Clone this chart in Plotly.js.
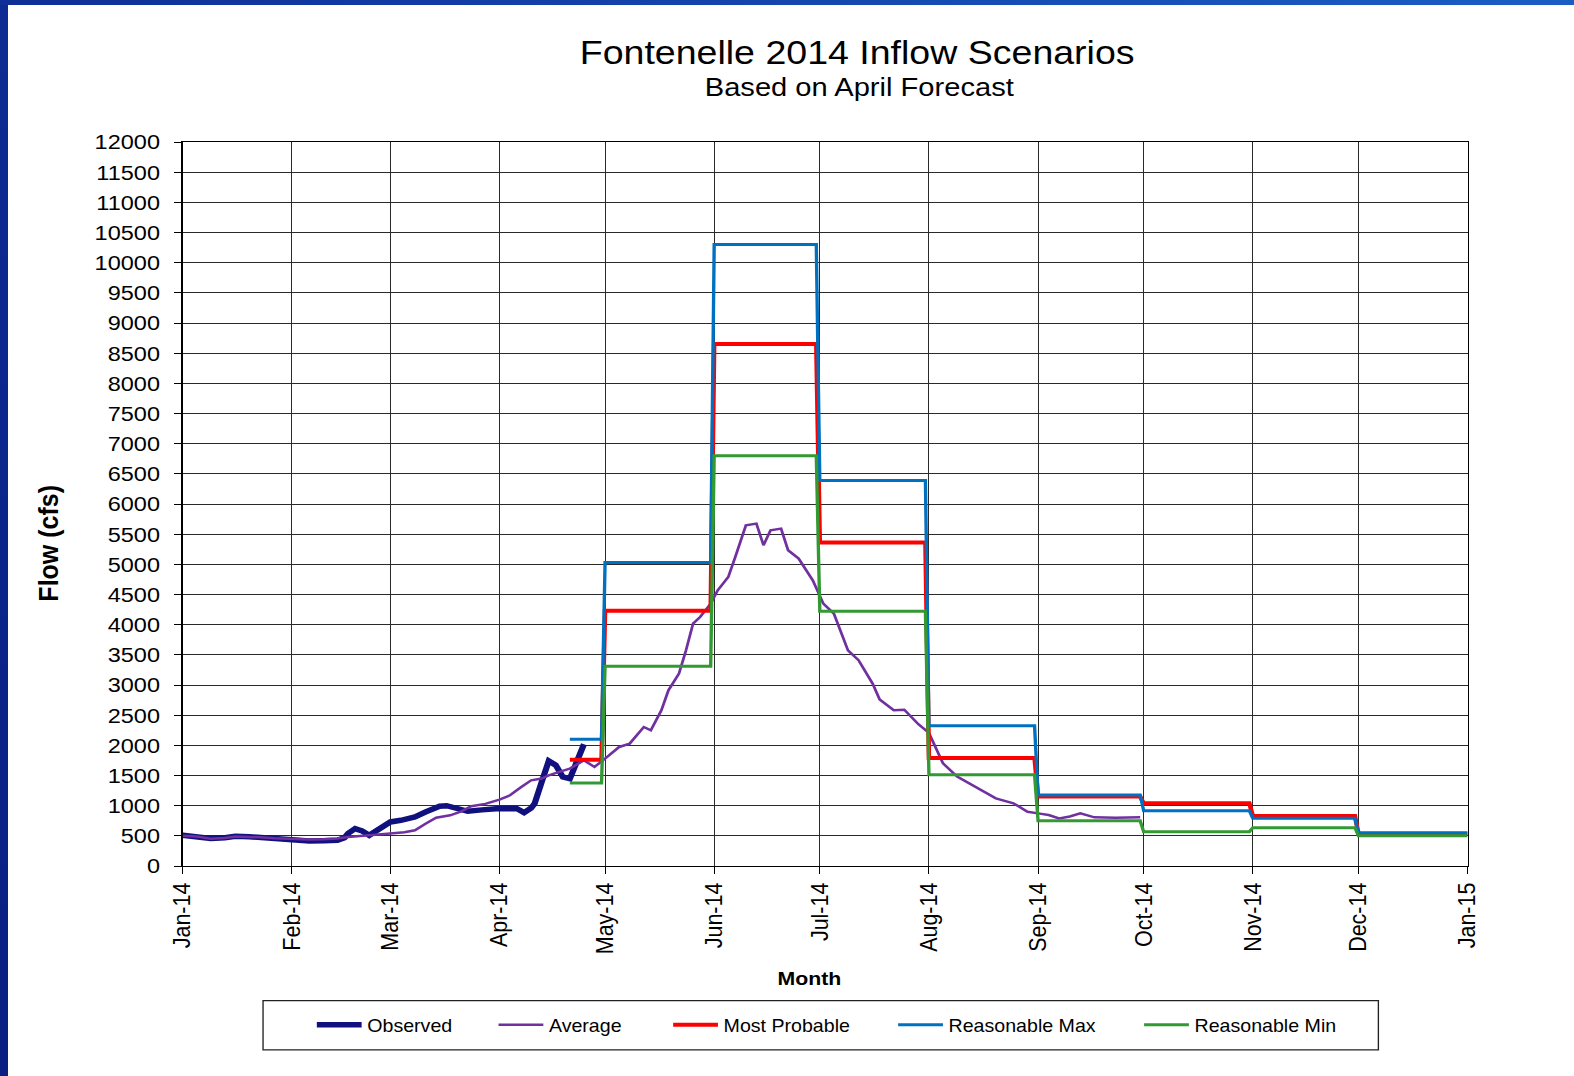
<!DOCTYPE html>
<html>
<head>
<meta charset="utf-8">
<script src="https://cdn.plot.ly/plotly-3.0.1.min.js"></script>
<style>
  html, body { margin: 0; padding: 0; background: #ffffff; overflow: hidden; }
  #wrap { position: absolute; left: 0; top: 0; width: 1574px; height: 1076px; background: #ffffff; }
  #chart { position: absolute; left: 0; top: 0; width: 1405px; height: 1076px; transform: scaleX(1.12028); transform-origin: 0 0; }
  #barLeft { position: absolute; left: 0; top: 0; width: 8px; height: 1076px; background: linear-gradient(#0d2b93, #0a1f82); }
  #barTop { position: absolute; left: 0; top: 0; width: 1574px; height: 5px; background: linear-gradient(90deg, #0f2f97, #1a5ec4); }
</style>
</head>
<body>
<div id="wrap">
  <div id="chart"></div>
  <div id="barLeft"></div>
  <div id="barTop"></div>
</div>
<script>
// ---------- DATA ----------
const observedDates = ["2014-01-01","2014-01-05","2014-01-09","2014-01-13","2014-01-16","2014-01-20","2014-01-23","2014-01-27",
  "2014-02-01","2014-02-06","2014-02-10","2014-02-14","2014-02-16","2014-02-17","2014-02-19","2014-02-21","2014-02-23","2014-02-26","2014-02-28",
  "2014-03-01","2014-03-04","2014-03-08","2014-03-11","2014-03-15","2014-03-17","2014-03-20","2014-03-23","2014-03-27","2014-03-31",
  "2014-04-06","2014-04-08","2014-04-10","2014-04-11","2014-04-13","2014-04-15","2014-04-17","2014-04-19","2014-04-21","2014-04-23","2014-04-25"];
const observedValues = [510,490,455,470,492,485,470,455,
  437,415,420,426,470,540,620,580,509,620,703,
  730,757,812,895,990,1000,950,907,930,950,
  950,885,960,1034,1393,1741,1670,1475,1447,1724,2017];

const averageDates = ["2014-01-01","2014-01-05","2014-01-09","2014-01-13","2014-01-16","2014-01-20","2014-01-23","2014-01-27",
  "2014-02-01","2014-02-06","2014-02-10","2014-02-14","2014-02-17","2014-02-22","2014-02-26",
  "2014-03-01","2014-03-05","2014-03-08","2014-03-11","2014-03-14","2014-03-18","2014-03-21","2014-03-24","2014-03-28",
  "2014-04-01","2014-04-04","2014-04-07","2014-04-10","2014-04-13","2014-04-15","2014-04-18","2014-04-21","2014-04-25","2014-04-28",
  "2014-05-01","2014-05-05","2014-05-08","2014-05-12","2014-05-14","2014-05-17","2014-05-19","2014-05-22","2014-05-24","2014-05-26","2014-05-28","2014-05-31",
  "2014-06-02","2014-06-05","2014-06-07","2014-06-10","2014-06-13","2014-06-15","2014-06-17","2014-06-20","2014-06-22","2014-06-25","2014-06-29",
  "2014-07-02","2014-07-05","2014-07-09","2014-07-12","2014-07-16","2014-07-18","2014-07-22","2014-07-25","2014-07-29",
  "2014-08-01","2014-08-05","2014-08-09","2014-08-15","2014-08-20","2014-08-25","2014-08-29",
  "2014-09-01","2014-09-04","2014-09-07","2014-09-10","2014-09-13","2014-09-17","2014-09-23","2014-09-30"];
const averageValues = [500,490,452,465,490,485,475,460,
  450,440,445,455,480,500,520,
  537,560,592,700,800,840,900,990,1030,
  1100,1172,1300,1420,1450,1503,1560,1614,1752,1641,
  1780,1973,2029,2304,2249,2581,2912,3189,3575,4018,4127,4349,
  4570,4790,5122,5647,5675,5316,5564,5592,5233,5095,4735,
  4349,4184,3575,3410,3023,2761,2581,2590,2350,
  2206,1700,1483,1289,1120,1039,900,
  872,844,789,820,872,806,800,806];

// monthly scenario periods (start / end of each block)
const periodStarts = ["2014-04-21","2014-05-01","2014-06-01","2014-07-01","2014-08-01","2014-09-01","2014-10-01","2014-11-01","2014-12-01"];
const periodEnds   = ["2014-04-30","2014-05-31","2014-06-30","2014-07-31","2014-08-31","2014-09-30","2014-10-31","2014-11-30","2015-01-01"];
const mostProbable   = [1760, 4230, 8650, 5360, 1790, 1150, 1040, 830, 540];
const reasonableMax  = [2100, 5030, 10300, 6390, 2325, 1178, 917, 790, 545];
const reasonableMin  = [1376, 3310, 6800, 4222, 1511, 750, 567, 633, 500];

const yTickVals = [0,500,1000,1500,2000,2500,3000,3500,4000,4500,5000,5500,6000,6500,7000,7500,8000,8500,9000,9500,10000,10500,11000,11500,12000];

// ---------- HELPERS ----------
function stepSeries(values) {
  const x = [], y = [];
  values.forEach((v, i) => { x.push(periodStarts[i], periodEnds[i]); y.push(v, v); });
  return {x, y};
}
const FONT = "Liberation Sans, Arial, sans-serif";
const mp = stepSeries(mostProbable), mx = stepSeries(reasonableMax), mn = stepSeries(reasonableMin);

const traces = [
  {x: observedDates, y: observedValues, name: "Observed", mode: "lines", line: {color: "#10107e", width: 5.5}, legend: "legend"},
  {x: averageDates, y: averageValues, name: "Average", mode: "lines", line: {color: "#7030a0", width: 2.5}, legend: "legend2"},
  {x: mp.x, y: mp.y, name: "Most Probable", mode: "lines", line: {color: "#ff0000", width: 4}, legend: "legend3"},
  {x: mx.x, y: mx.y, name: "Reasonable Max", mode: "lines", line: {color: "#0070c0", width: 3}, legend: "legend4"},
  {x: mn.x, y: mn.y, name: "Reasonable Min", mode: "lines", line: {color: "#339933", width: 3}, legend: "legend5"}
];

function leg(x) {
  return {x: x, y: -0.2196, xanchor: "left", yanchor: "middle", orientation: "h",
          bgcolor: "rgba(0,0,0,0)", borderwidth: 0, itemwidth: 40,
          font: {family: FONT, size: 17.5, color: "#000"}};
}

const layout = {
  width: 1405, height: 1076,
  margin: {l: 163, r: 95, t: 142, b: 210},
  paper_bgcolor: "rgba(0,0,0,0)", plot_bgcolor: "#ffffff",
  showlegend: true,
  title: {text: "Fontenelle 2014 Inflow Scenarios", x: 0.5446, xref: "container", xanchor: "center",
          y: 1 - 52/1076, yref: "container", yanchor: "middle",
          font: {family: FONT, size: 33.5, color: "#000"}},
  xaxis: {type: "date", range: ["2014-01-01", "2015-01-01"], dtick: "M1", tick0: "2014-01-01",
          tickformat: "%b-%y", tickangle: -90, ticks: "outside", ticklen: 7, tickcolor: "#000",
          showgrid: true, gridcolor: "#2a2a2a", gridwidth: 1, showline: true, linecolor: "#000", linewidth: 1, mirror: true,
          tickfont: {family: FONT, size: 21.5, color: "#000"}, zeroline: false, fixedrange: true},
  yaxis: {range: [0, 12000], tickvals: yTickVals, tickformat: "d", ticks: "outside", ticklen: 7, tickcolor: "#000",
          showgrid: true, gridcolor: "#2a2a2a", gridwidth: 1, showline: true, linecolor: "#000", linewidth: 1, mirror: true,
          tickfont: {family: FONT, size: 21, color: "#000"}, zeroline: false, ticklabelstandoff: 8, fixedrange: true},
  legend: leg(0.1001), legend2: leg(0.2415), legend3: leg(0.3774), legend4: leg(0.5525), legend5: leg(0.7439),
  annotations: [
    {text: "Based on April Forecast", xref: "paper", yref: "paper", x: 0.5266, y: 1.0764, xanchor: "center", yanchor: "middle",
     showarrow: false, font: {family: FONT, size: 26, color: "#000"}},
    {text: "<b>Month</b>", xref: "paper", yref: "paper", x: 0.4878, y: -0.156, xanchor: "center", yanchor: "middle",
     showarrow: false, font: {family: FONT, size: 19, color: "#000"}},
    {text: "<b>Flow (cfs)</b>", xref: "paper", yref: "paper", x: -0.105, y: 0.446, xanchor: "center", yanchor: "middle",
     textangle: -90, showarrow: false, font: {family: FONT, size: 25, color: "#000"}}
  ],
  shapes: [
    {type: "rect", xref: "paper", yref: "paper", x0: 0.0626, x1: 0.9306, y0: -0.186, y1: -0.254,
     line: {color: "#222", width: 1.2}, fillcolor: "rgba(0,0,0,0)"}
  ]
};

Plotly.newPlot("chart", traces, layout, {displayModeBar: false, staticPlot: true});
</script>
</body>
</html>
